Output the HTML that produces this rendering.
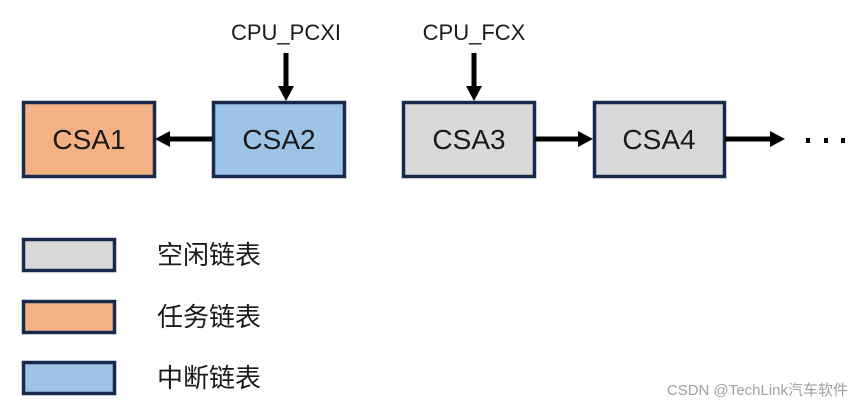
<!DOCTYPE html>
<html><head><meta charset="utf-8"><style>html,body{margin:0;padding:0;background:#fff;}svg{display:block}</style></head>
<body>
<svg width="863" height="409" viewBox="0 0 863 409" xmlns="http://www.w3.org/2000/svg" font-family="Liberation Sans, Noto Sans CJK SC, sans-serif">
<g stroke="#172a4e" stroke-width="3.5">
<rect x="23.5" y="102.5" width="131" height="74" fill="#f4b183"/>
<rect x="213.5" y="102.5" width="131" height="74" fill="#9dc3e6"/>
<rect x="403.5" y="102.5" width="131" height="74" fill="#d9d9d9"/>
<rect x="594.5" y="102.5" width="130" height="74" fill="#d9d9d9"/>
<rect x="23.5" y="239.5" width="91" height="31" fill="#d9d9d9"/>
<rect x="23.5" y="301.5" width="91" height="31" fill="#f4b183"/>
<rect x="23.5" y="362.5" width="91" height="31" fill="#9dc3e6"/>
</g>
<g fill="#1a1a1a" font-size="28" text-anchor="middle">
<text x="89" y="149">CSA1</text>
<text x="279" y="149">CSA2</text>
<text x="469" y="149">CSA3</text>
<text x="659" y="149">CSA4</text>
</g>
<g fill="#1a1a1a" font-size="22" text-anchor="middle">
<text x="286" y="40">CPU_PCXI</text>
<text x="474" y="40">CPU_FCX</text>
</g>
<g stroke="#000" stroke-width="5">
<line x1="286" y1="53" x2="286" y2="90"/>
<line x1="474" y1="53" x2="474" y2="90"/>
<line x1="212" y1="139" x2="168" y2="139"/>
<line x1="535" y1="139" x2="580" y2="139"/>
<line x1="725" y1="139" x2="772" y2="139"/>
</g>
<g fill="#000">
<polygon points="278,86 294,86 286,101"/>
<polygon points="466,86 482,86 474,101"/>
<polygon points="170,131 170,147 155,139"/>
<polygon points="578,131 578,147 593,139"/>
<polygon points="770,131 770,147 785,139"/>
<rect x="806" y="138" width="4" height="5"/>
<rect x="824" y="138" width="4" height="5"/>
<rect x="841" y="138" width="4" height="5"/>
</g>
<g fill="#1a1a1a" font-size="26" font-family="Noto Sans CJK SC, sans-serif">
<text x="157" y="264">空闲链表</text>
<text x="157" y="326">任务链表</text>
<text x="157" y="387">中断链表</text>
</g>
<text x="848" y="395" text-anchor="end" font-size="15" fill="#a0a0a0" font-family="Liberation Sans, Noto Sans CJK SC, sans-serif">CSDN @TechLink汽车软件</text>
</svg>
</body></html>
